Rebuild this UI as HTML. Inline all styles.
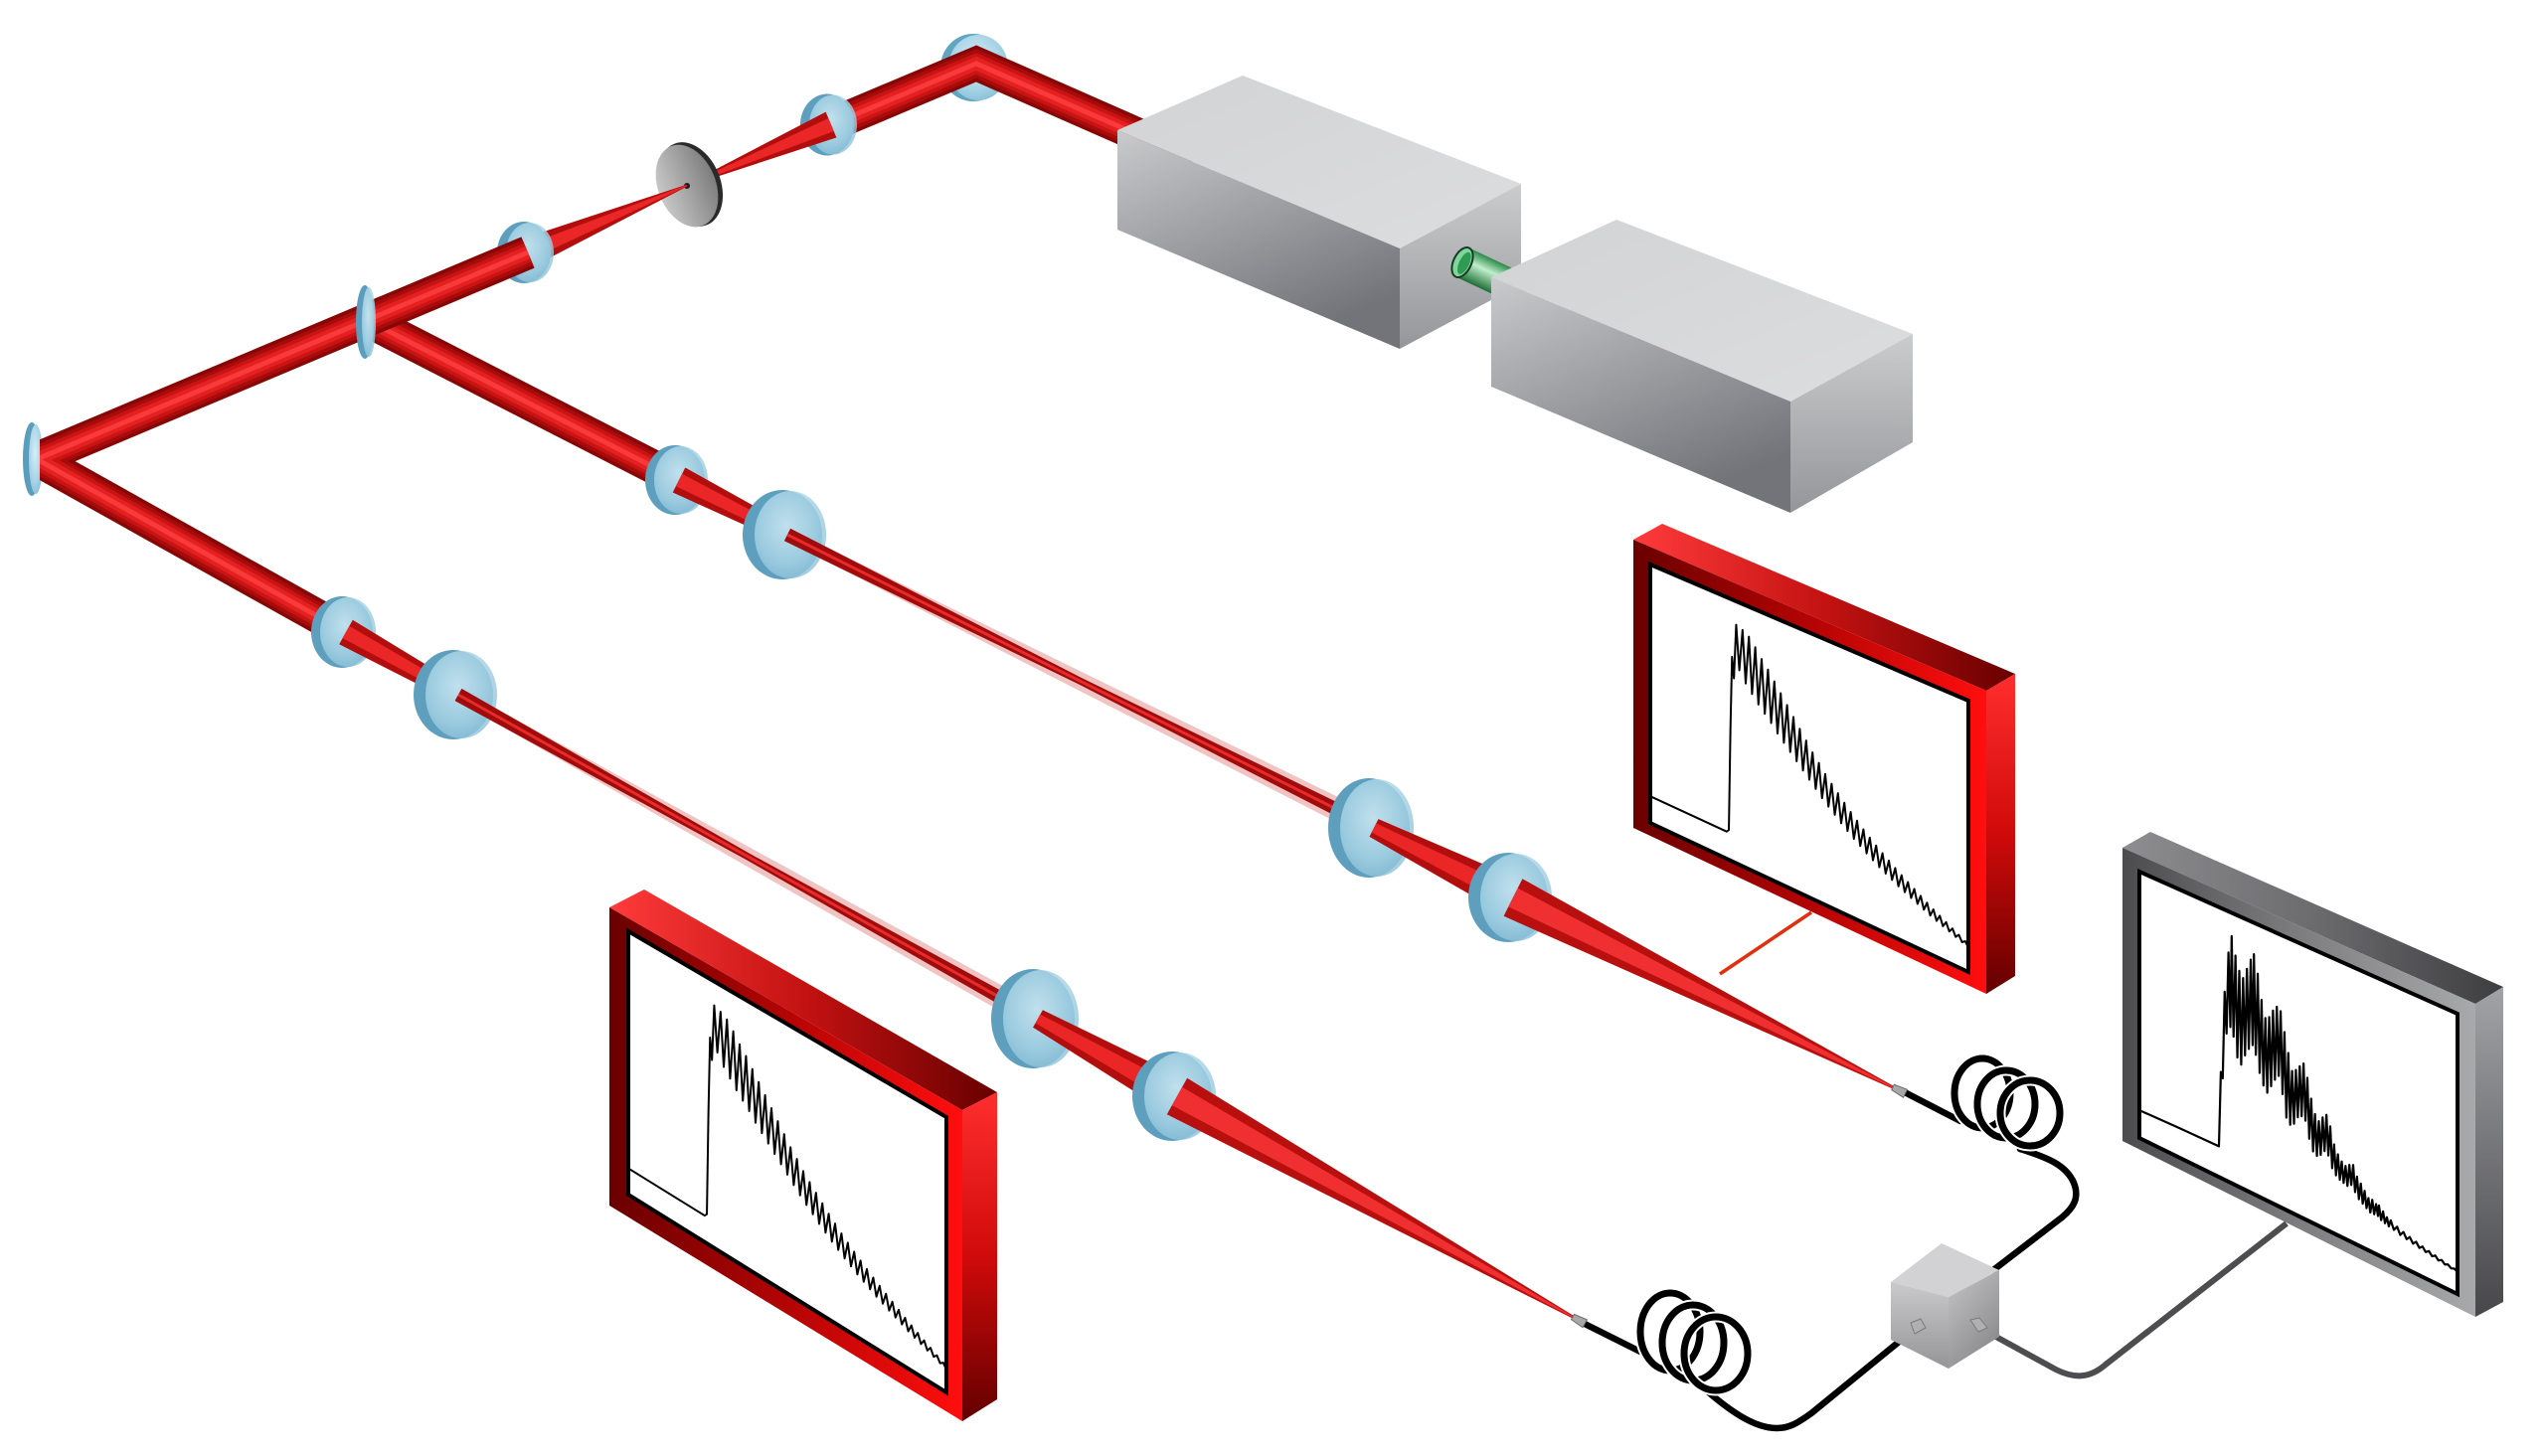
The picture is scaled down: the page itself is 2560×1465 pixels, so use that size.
<!DOCTYPE html>
<html><head><meta charset="utf-8"><style>html,body{margin:0;padding:0;background:#fff}svg{display:block}</style></head>
<body>
<svg width="2560" height="1465" viewBox="0 0 2560 1465" xmlns="http://www.w3.org/2000/svg">
<defs>
<radialGradient id="lf" cx="0.45" cy="0.4" r="0.6"><stop offset="0" stop-color="#d6eef7"/><stop offset="0.7" stop-color="#a8d4e6"/><stop offset="1" stop-color="#8fc3da"/></radialGradient>
<linearGradient id="pinG" x1="0" y1="0" x2="1" y2="0"><stop offset="0" stop-color="#c8c8c8"/><stop offset="1" stop-color="#7e7e7e"/></linearGradient>
<linearGradient id="boxF" x1="0" y1="0" x2="0.5" y2="1"><stop offset="0" stop-color="#c9cacc"/><stop offset="1" stop-color="#73747a"/></linearGradient>
<linearGradient id="boxR" x1="0" y1="0" x2="0" y2="1"><stop offset="0" stop-color="#cbcccd"/><stop offset="1" stop-color="#95969a"/></linearGradient>
<linearGradient id="boxT" x1="0" y1="0" x2="1" y2="1"><stop offset="0" stop-color="#d2d3d5"/><stop offset="1" stop-color="#dcdddf"/></linearGradient>
<linearGradient id="rFront" x1="0" y1="0" x2="1" y2="0"><stop offset="0" stop-color="#6a0000"/><stop offset="0.5" stop-color="#b30404"/><stop offset="1" stop-color="#ff0e0e"/></linearGradient>
<linearGradient id="rTop" x1="0" y1="0" x2="1" y2="0"><stop offset="0" stop-color="#ff3b3b"/><stop offset="0.5" stop-color="#c41212"/><stop offset="1" stop-color="#680000"/></linearGradient>
<linearGradient id="rSide" x1="0" y1="0" x2="0" y2="1"><stop offset="0" stop-color="#ff2e2e"/><stop offset="0.5" stop-color="#d00a0a"/><stop offset="1" stop-color="#640000"/></linearGradient>
<linearGradient id="gFront" x1="0" y1="0" x2="1" y2="0"><stop offset="0" stop-color="#4c4c4f"/><stop offset="0.5" stop-color="#7d7d80"/><stop offset="1" stop-color="#a8a9ab"/></linearGradient>
<linearGradient id="gTop" x1="0" y1="0" x2="1" y2="0"><stop offset="0" stop-color="#8e8e91"/><stop offset="0.5" stop-color="#6c6c6f"/><stop offset="1" stop-color="#3e3e41"/></linearGradient>
<linearGradient id="gSide" x1="0" y1="0" x2="0" y2="1"><stop offset="0" stop-color="#a2a3a6"/><stop offset="1" stop-color="#47474a"/></linearGradient>
<linearGradient id="cL" x1="0" y1="0" x2="0" y2="1"><stop offset="0" stop-color="#cacacc"/><stop offset="1" stop-color="#959597"/></linearGradient>
<linearGradient id="cR" x1="0" y1="0" x2="0.6" y2="1"><stop offset="0" stop-color="#c6c6c8"/><stop offset="1" stop-color="#8a8a8c"/></linearGradient>
<linearGradient id="conn" x1="0" y1="0" x2="1" y2="0"><stop offset="0" stop-color="#8a0000"/><stop offset="1" stop-color="#e52222"/></linearGradient>
<linearGradient id="grn" gradientUnits="userSpaceOnUse" x1="1477.8" y1="249.5" x2="1464.2" y2="278.5"><stop offset="0" stop-color="#2a8a48"/><stop offset="0.4" stop-color="#c0efcc"/><stop offset="1" stop-color="#1c6e36"/></linearGradient>
<clipPath id="leftclip"><rect x="40" y="0" width="2520" height="1465"/></clipPath>
</defs>

<rect width="2560" height="1465" fill="#fff"/>

<!-- mirrors behind beam corners -->
<g transform="translate(982,68)"><ellipse cx="-3" rx="33" ry="34" fill="#62a5c3"/><ellipse cx="2" rx="30" ry="33" fill="url(#lf)"/></g>
<g transform="translate(34,462)"><ellipse cx="-2" rx="9" ry="37" fill="#5b9dbc"/><ellipse cx="2" rx="7" ry="35" fill="url(#lf)"/></g>

<!-- top tube: box -> top mirror -> lens A -->
<g fill="none" stroke-linejoin="miter" stroke-miterlimit="10">
<polyline points="1200,160 982,64 836,125.5" stroke="#870606" stroke-width="34"/>
<polyline points="1200,160 982,64 836,125.5" stroke="#a80b0b" stroke-width="27"/>
<polyline points="1200,160 982,64 836,125.5" stroke="#c91414" stroke-width="20"/>
<polyline points="1200,160 982,64 836,125.5" stroke="#e42020" stroke-width="13"/>
<polyline points="1200,160 982,64 836,125.5" stroke="#f93a3a" stroke-width="5"/>
</g>

<!-- lens A -->
<g transform="translate(836,125.5)"><ellipse cx="-4" rx="27" ry="31" fill="#5e9fbe"/><ellipse cx="2" rx="24" ry="30" fill="url(#lf)" opacity="0.82"/></g>
<polygon points="830.6,112.6 841.4,138.4 691.4,187.5 690.6,185.7" fill="#b30e0e"/>
<polygon points="833.3,119 838.7,132 691.2,187.2 690.8,186" fill="#ea2626"/>
<g transform="translate(691,187) rotate(-22)"><ellipse cx="4" rx="30" ry="44" fill="#2a2a2a"/><ellipse cx="0" rx="29" ry="43" fill="url(#pinG)"/><circle r="3" fill="#1a1a1a"/></g>
<polygon points="690.6,185.7 691.4,187.5 536.8,267.8 525.2,240.2" fill="#b30e0e"/>
<polygon points="690.8,186 691.2,187.2 533.9,260.9 528.1,247.1" fill="#ea2626"/>
<g transform="translate(531,254)"><ellipse cx="-4" rx="27" ry="31" fill="#5e9fbe"/><ellipse cx="2" rx="24" ry="30" fill="url(#lf)" opacity="0.82"/></g>

<!-- upper branch tube S -> C -->
<g fill="none">
<line x1="369" y1="322" x2="683" y2="483" stroke="#870606" stroke-width="34"/>
<line x1="369" y1="322" x2="683" y2="483" stroke="#a80b0b" stroke-width="27"/>
<line x1="369" y1="322" x2="683" y2="483" stroke="#c91414" stroke-width="20"/>
<line x1="369" y1="322" x2="683" y2="483" stroke="#e42020" stroke-width="13"/>
<line x1="369" y1="322" x2="683" y2="483" stroke="#f93a3a" stroke-width="5"/>
</g>
<!-- main tube B -> M -> E -->
<g fill="none" stroke-linejoin="miter" stroke-miterlimit="10" clip-path="url(#leftclip)">
<polyline points="531,254 37,462 348,636" stroke="#870606" stroke-width="34"/>
<polyline points="531,254 37,462 348,636" stroke="#a80b0b" stroke-width="27"/>
<polyline points="531,254 37,462 348,636" stroke="#c91414" stroke-width="20"/>
<polyline points="531,254 37,462 348,636" stroke="#e42020" stroke-width="13"/>
<polyline points="531,254 37,462 348,636" stroke="#f93a3a" stroke-width="5"/>
</g>
<g transform="translate(369,324)"><ellipse cx="-2" rx="9" ry="37" fill="#5b9dbc"/><ellipse cx="2" rx="7" ry="35" fill="url(#lf)" opacity="0.85"/></g>

<!-- UPPER BRANCH -->
<g transform="translate(683,483)"><ellipse cx="-4" rx="30" ry="35" fill="#5e9fbe"/><ellipse cx="2" rx="27" ry="34" fill="url(#lf)" opacity="0.82"/></g>
<polygon points="689.3,470.5 796,530 788,546 676.7,495.5" fill="#b30e0e"/>
<polygon points="686.1,476.7 794,534 790,542 679.9,489.3" fill="#ea2626"/>
<g transform="translate(792,538)"><ellipse cx="-5" rx="40" ry="45" fill="#5e9fbe"/><ellipse cx="3" rx="36" ry="44" fill="url(#lf)" opacity="0.82"/></g>
<polygon points="794.7,532.6 1387.4,822.3 1376.6,843.7 789.3,543.4" fill="#d23a3a" opacity="0.3"/>
<polygon points="795.1,531.7 1088.6,682.4 1385.1,826.7 1378.9,839.3 1085.4,688.6 788.9,544.3" fill="#a00c0c"/>
<line x1="792" y1="538" x2="1382" y2="833" stroke="#e82a2a" stroke-width="3"/>
<g transform="translate(1382,833)"><ellipse cx="-5" rx="41" ry="50" fill="#5e9fbe"/><ellipse cx="3" rx="37" ry="49" fill="url(#lf)" opacity="0.82"/></g>
<polygon points="1386.5,824.1 1530.5,886 1513.5,920 1377.5,841.9" fill="#b30e0e"/>
<polygon points="1384.2,828.5 1526.3,894.5 1517.7,911.5 1379.8,837.5" fill="#ea2626"/>
<g transform="translate(1522,903)"><ellipse cx="-5" rx="40" ry="45" fill="#5e9fbe"/><ellipse cx="3" rx="36" ry="44" fill="url(#lf)" opacity="0.82"/></g>
<polygon points="1531.4,884.2 1904.7,1092.7 1903.3,1095.3 1512.6,921.8" fill="#b80f0f"/>
<polygon points="1526.7,893.6 1904.3,1093.4 1903.7,1094.6 1517.3,912.4" fill="#f03030"/>

<!-- LOWER BRANCH -->
<g transform="translate(348,636)"><ellipse cx="-4" rx="31" ry="36" fill="#5e9fbe"/><ellipse cx="2" rx="28" ry="35" fill="url(#lf)" opacity="0.82"/></g>
<polygon points="354.8,623.8 465.4,691.1 456.6,706.9 341.2,648.2" fill="#b30e0e"/>
<polygon points="351.4,629.9 463.2,695.1 458.8,702.9 344.6,642.1" fill="#ea2626"/>
<g transform="translate(461,699)"><ellipse cx="-5" rx="40" ry="45" fill="#5e9fbe"/><ellipse cx="3" rx="36" ry="44" fill="url(#lf)" opacity="0.82"/></g>
<polygon points="463.9,693.8 1049.9,1014.5 1038.1,1035.5 458.1,704.2" fill="#d23a3a" opacity="0.3"/>
<polygon points="464.4,692.9 754.2,858.9 1047.4,1018.9 1040.6,1031.1 750.8,865.1 457.6,705.1" fill="#a00c0c"/>
<line x1="461" y1="699" x2="1044" y2="1025" stroke="#e82a2a" stroke-width="3"/>
<g transform="translate(1044,1025)"><ellipse cx="-5" rx="42" ry="50" fill="#5e9fbe"/><ellipse cx="3" rx="38" ry="49" fill="url(#lf)" opacity="0.82"/></g>
<polygon points="1048.9,1016.3 1193.3,1086.4 1174.7,1119.6 1039.1,1033.7" fill="#b30e0e"/>
<polygon points="1046.4,1020.6 1188.6,1094.7 1179.4,1111.3 1041.6,1029.4" fill="#ea2626"/>
<g transform="translate(1184,1103)"><ellipse cx="-5" rx="40" ry="45" fill="#5e9fbe"/><ellipse cx="3" rx="36" ry="44" fill="url(#lf)" opacity="0.82"/></g>
<polygon points="1194.2,1084.7 1582.7,1323.7 1581.3,1326.3 1173.8,1121.3" fill="#b80f0f"/>
<polygon points="1189.1,1093.8 1582.3,1324.4 1581.7,1325.6 1178.9,1112.2" fill="#f03030"/>

<!-- BOX 1 -->
<polygon points="1124,131 1250,76 1530,185 1408,250" fill="url(#boxT)"/>
<polygon points="1124,131 1408,250 1408,351 1124,231" fill="url(#boxF)"/>
<polygon points="1408,250 1530,185 1530,286 1408,351" fill="url(#boxR)"/>
<!-- green cylinder -->
<polygon points="1477.8,249.5 1541.8,279.5 1528.2,308.5 1464.2,278.5" fill="url(#grn)"/>
<g transform="translate(1471,264) rotate(25)"><ellipse rx="9" ry="16" fill="#7fd69c" stroke="#1b3a24" stroke-width="2"/><ellipse cx="2" rx="5" ry="12" fill="#2f9a52"/></g>
<!-- BOX 2 -->
<polygon points="1500,279 1626,221 1924,336 1801,404" fill="url(#boxT)"/>
<polygon points="1500,279 1801,404 1801,516 1500,389" fill="url(#boxF)"/>
<polygon points="1801,404 1924,336 1924,445 1801,516" fill="url(#boxR)"/>

<!-- connectors -->
<line x1="968" y1="1223" x2="1353" y2="1223" stroke="url(#conn)" stroke-width="3.5"/>
<line x1="1822" y1="918" x2="1730" y2="980" stroke="#e0300f" stroke-width="3.5"/>
<path d="M1995,1338 L2068,1378 C2088,1388 2103,1386 2118,1373 L2300,1231" fill="none" stroke="#4d4d50" stroke-width="6"/>

<!-- LOWER RED MONITOR -->
<polygon points="613,913 648,895 1003,1099 968,1117" fill="url(#rTop)"/>
<polygon points="968,1117 1003,1099 1003,1408 968,1430" fill="url(#rSide)"/>
<polygon points="613,913 968,1117 968,1430 613,1213" fill="url(#rFront)"/>
<polygon points="632,937 952,1124 952,1401 632,1202" fill="#fff" stroke="#000" stroke-width="4"/>
<polyline transform="matrix(3.2,1.87,0,2.68,632,937)" vector-effect="non-scaling-stroke" fill="none" stroke="#000" stroke-width="2" stroke-linejoin="round"
points="0,89 12,89.5 24,90 24.7,89 25.2,50 25.7,22 26.3,30 27,9 28,26 29,10 30,30 31,11.5 32,33 33,14.5 34,36 35,18 36,38.5 37,21 38,41 39,24.5 40,44 41,28 42,46.5 43,31.5 44,49 45,35 46,51.5 47,38.5 48,54 49,42 50,56.5 51,45.5 52,59 53,48.5 54,61.5 55,51.7 56,63.7 57,54.4 58,65.8 59,57 60,68 61,59.6 62,69.9 63,62.1 64,71.9 65,64.4 66,73.6 67,66.7 68,75.4 69,68.8 70,77 71,70.8 72,78.6 73,72.7 74,80 75,74.5 76,81.4 77,76.3 78,82.8 79,78 80,84 81,79.6 82,85.2 83,81.2 84,86.4 85,82.8 86,87.6 87,84.4 88,88.8 89,85.9 90,89.8 91,87.3 92,90.8 93,88.7 94,91.8 95,90.1 96,92.8 97,91.5 98,93.8 99,92.9 100,94.8"/>

<!-- UPPER RED MONITOR -->
<polygon points="1643,543 1672,527 2027,678 1998,695" fill="url(#rTop)"/>
<polygon points="1998,695 2027,678 2027,982 1998,1000" fill="url(#rSide)"/>
<polygon points="1643,543 1998,695 1998,1000 1643,833" fill="url(#rFront)"/>
<polygon points="1660,568 1980,705 1980,978 1660,828" fill="#fff" stroke="#000" stroke-width="4"/>
<polyline transform="matrix(3.2,1.37,0,2.62,1660,568)" vector-effect="non-scaling-stroke" fill="none" stroke="#000" stroke-width="2" stroke-linejoin="round"
points="0,89 12,89.5 24,90 24.7,89 25.2,50 25.7,22 26.3,30 27,9 28,26 29,10 30,30 31,11.5 32,33 33,14.5 34,36 35,18 36,38.5 37,21 38,41 39,24.5 40,44 41,28 42,46.5 43,31.5 44,49 45,35 46,51.5 47,38.5 48,54 49,42 50,56.5 51,45.5 52,59 53,48.5 54,61.5 55,51.7 56,63.7 57,54.4 58,65.8 59,57 60,68 61,59.6 62,69.9 63,62.1 64,71.9 65,64.4 66,73.6 67,66.7 68,75.4 69,68.8 70,77 71,70.8 72,78.6 73,72.7 74,80 75,74.5 76,81.4 77,76.3 78,82.8 79,78 80,84 81,79.6 82,85.2 83,81.2 84,86.4 85,82.8 86,87.6 87,84.4 88,88.8 89,85.9 90,89.8 91,87.3 92,90.8 93,88.7 94,91.8 95,90.1 96,92.8 97,91.5 98,93.8 99,92.9 100,94.8"/>

<!-- GRAY MONITOR -->
<polygon points="2135,853 2163,837 2518,993 2490,1010" fill="url(#gTop)"/>
<polygon points="2490,1010 2518,993 2518,1310 2490,1325" fill="url(#gSide)"/>
<polygon points="2135,853 2490,1010 2490,1325 2135,1148" fill="url(#gFront)"/>
<polygon points="2152,877 2472,1020 2472,1302 2152,1145" fill="#fff" stroke="#000" stroke-width="4"/>
<polyline transform="matrix(3.2,1.43,0,2.75,2152,877)" vector-effect="non-scaling-stroke" fill="none" stroke="#000" stroke-width="2.2" stroke-linejoin="round"
points="0,87.3 12,87.3 25,87.5 25.6,60 26.2,62 26.8,30 27.4,45 28,15 28.6,42 29,8.5 29.6,45 30.2,15 30.8,52 31.4,20 32,54 32.6,22 33.2,50 33.8,18 34.4,47 35,14 35.6,45 36,11.5 36.6,48 37.2,18 37.8,54 38.4,27 39,58 39.6,33 40.2,60 40.8,32 41.4,57 42,29 42.6,54 43.2,27 43.8,52 44.4,28 45,58 45.6,35 46.2,66 46.8,42 47.4,68 48,48 48.6,67 49.2,47 49.8,64 50.4,45 51,63 51.6,43.4 52.2,64 52.8,48 53.4,70 54,55 54.6,74 55.2,60 55.8,75 56.4,62 57,74 57.6,60 58.2,72 58.8,58.4 59.4,73 60,62 60.6,77 61.2,68 61.8,79 62.4,71 63,80 63.6,73 64.2,80.5 64.8,74 65.4,81 66,73 66.6,80 67.2,72.4 67.8,82 68.4,76 69,84 69.6,78 70.2,85 70.8,80 71.4,86 72,82 72.6,87 73.2,82 73.8,87 74.4,83 75,87 75.3,83 76,88 76.6,84.5 77.2,88.5 77.8,86 78.4,89 79,86.5 80,89.5 81,87.8 82,90.3 83,88.7 84,90.8 85,89.5 86,91.4 87,90.2 88,91.9 89,90.9 90,92.4 91,91.5 92,92.9 93,92.1 94,93.4 95,92.7 96,93.8 97,93.3 98,94.2 99,93.8 100,94.5"/>

<!-- FIBERS -->
<g fill="none" stroke="#000" stroke-width="6.5" stroke-linecap="round">
<path d="M1912,1097 L1972,1128"/>
<path d="M1592,1331 L1650,1360"/>
<path d="M2032,1156 C2060,1165 2078,1172 2086,1190 C2092,1205 2086,1215 2074,1225 L2005,1278"/>
<path d="M1713,1396 C1740,1420 1765,1437 1787,1437 C1800,1437 1808,1432 1822,1422 L1920,1342"/>
</g>
<!-- coils -->
<g fill="none">
<ellipse cx="1994" cy="1100" rx="28" ry="35" stroke="#fff" stroke-width="11"/><ellipse cx="1994" cy="1100" rx="28" ry="35" stroke="#000" stroke-width="7"/>
<ellipse cx="2018" cy="1111" rx="29" ry="34" stroke="#fff" stroke-width="11"/><ellipse cx="2018" cy="1111" rx="29" ry="34" stroke="#000" stroke-width="7"/>
<ellipse cx="2042" cy="1120" rx="30" ry="33" stroke="#fff" stroke-width="11"/><ellipse cx="2042" cy="1120" rx="30" ry="33" stroke="#000" stroke-width="7"/>
<ellipse cx="1680" cy="1340" rx="30" ry="39" stroke="#fff" stroke-width="11"/><ellipse cx="1680" cy="1340" rx="30" ry="39" stroke="#000" stroke-width="7"/>
<ellipse cx="1703" cy="1351" rx="31" ry="38" stroke="#fff" stroke-width="11"/><ellipse cx="1703" cy="1351" rx="31" ry="38" stroke="#000" stroke-width="7"/>
<ellipse cx="1726" cy="1362" rx="32" ry="37" stroke="#fff" stroke-width="11"/><ellipse cx="1726" cy="1362" rx="32" ry="37" stroke="#000" stroke-width="7"/>
</g>
<!-- ferrules -->
<polygon points="1902.7,1096.7 1905.3,1091.3 1918.5,1096.3 1914.5,1104.3" fill="#a8a8aa" stroke="#6c6c6e" stroke-width="1"/>
<polygon points="1580.5,1327.6 1583.5,1322.4 1596.4,1327.9 1592,1335.7" fill="#a8a8aa" stroke="#6c6c6e" stroke-width="1"/>

<!-- COUPLER -->
<polygon points="1902,1290 1953,1251 2011,1278 1960,1305" fill="#d2d2d4"/>
<polygon points="1902,1290 1960,1305 1960,1377 1902,1348" fill="url(#cL)"/>
<polygon points="1960,1305 2011,1278 2011,1345 1960,1377" fill="url(#cR)"/>
<polygon points="1922,1331 1932,1327 1937,1336 1926,1342" fill="#b0b0b2" stroke="#7a7a7c" stroke-width="1"/>
<polygon points="1982,1328 1991,1326 1999,1336 1990,1340" fill="#b0b0b2" stroke="#7a7a7c" stroke-width="1"/>
</svg>
</body></html>
